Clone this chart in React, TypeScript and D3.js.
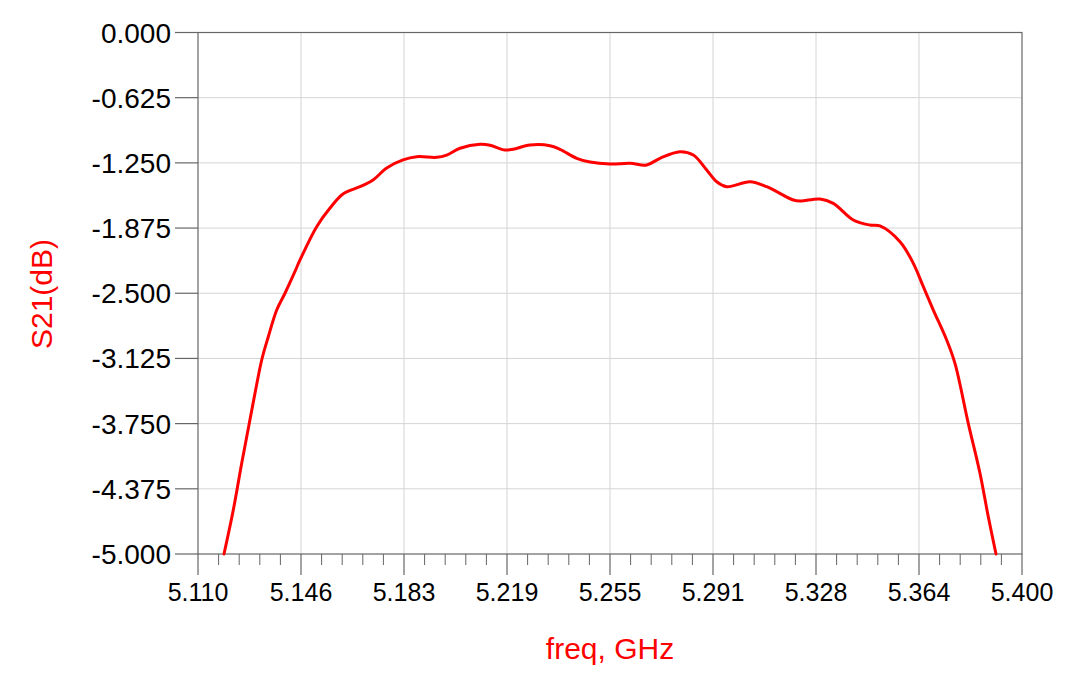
import React from "react";
import * as d3 from "d3";

const freqGHz: number[] = [
  5.11915, 5.12242, 5.12538, 5.12805, 5.13006, 5.13242, 5.13474, 5.1377, 5.14062, 5.14414,
  5.1459, 5.15177, 5.15646, 5.16103, 5.16701, 5.17159, 5.17641, 5.18215, 5.18697,
  5.19401, 5.19753, 5.20221, 5.20925, 5.21277, 5.21804, 5.22086, 5.22684, 5.23388, 5.2374,
  5.24328, 5.24796, 5.255, 5.26204, 5.26791, 5.2726, 5.27963, 5.28432, 5.28903, 5.29255,
  5.29607, 5.30427, 5.31015, 5.31951, 5.32187, 5.32891, 5.33359, 5.34063, 5.3465, 5.35002,
  5.35706, 5.36175, 5.36527, 5.36879, 5.37349, 5.37641, 5.38109, 5.38521, 5.38813, 5.39085,
];
const s21dB: number[] = [
  -5.0, -4.578, -4.13, -3.747, -3.459, -3.14, -2.917, -2.661, -2.5, -2.29,
  -2.181, -1.862, -1.683, -1.548, -1.478, -1.414, -1.299, -1.222, -1.191,
  -1.197, -1.175, -1.11, -1.072, -1.081, -1.127, -1.12, -1.079, -1.085, -1.12,
  -1.206, -1.242, -1.261, -1.254, -1.27, -1.206, -1.143, -1.175, -1.318, -1.431,
  -1.478, -1.431, -1.478, -1.606, -1.616, -1.596, -1.638, -1.798, -1.846, -1.855,
  -2.006, -2.213, -2.437, -2.661, -2.948, -3.172, -3.747, -4.226, -4.642, -5.0,
];
const xTicks: number[] = [5.11, 5.14625, 5.1825, 5.21875, 5.255, 5.29125, 5.3275, 5.36375, 5.4];
const xTickLabels: string[] = ["5.110", "5.146", "5.183", "5.219", "5.255", "5.291", "5.328", "5.364", "5.400"];
const yTicks: number[] = [0, -0.625, -1.25, -1.875, -2.5, -3.125, -3.75, -4.375, -5];
const yTickLabels: string[] = ["0.000", "-0.625", "-1.250", "-1.875", "-2.500", "-3.125", "-3.750", "-4.375", "-5.000"];

export default function App() {
  const W = 1080, H = 681;
  const L = 198, R = 1022, T = 32.5, B = 554;
  const x = d3.scaleLinear().domain([5.11, 5.4]).range([L, R]);
  const y = d3.scaleLinear().domain([-5, 0]).range([B, T]);
  const pts = freqGHz.map((f, i) => [f, s21dB[i]] as [number, number]);
  const line = d3.line<[number, number]>().x(d => x(d[0])).y(d => y(d[1])).curve(d3.curveCatmullRom.alpha(0.5));
  const minor: number[] = [];
  for (let i = 0; i < xTicks.length - 1; i++) {
    const a = xTicks[i], b = xTicks[i + 1];
    for (let k = 1; k < 5; k++) minor.push(a + (b - a) * k / 5);
  }
  const axisColor = "#666";
  const gridColor = "#d4d4d4";
  const font = "Liberation Sans, Arial, sans-serif";
  return (
    <svg width={W} height={H} style={{ position: "absolute", left: 0, top: 0, background: "#fff" }}>
      <rect x={0} y={0} width={W} height={H} fill="#fff" />
      {xTicks.slice(1, -1).map((t, i) => (
        <line key={"gx" + i} x1={x(t)} x2={x(t)} y1={T} y2={B} stroke={gridColor} strokeWidth={1} />
      ))}
      {yTicks.slice(1, -1).map((t, i) => (
        <line key={"gy" + i} x1={L} x2={R} y1={y(t)} y2={y(t)} stroke={gridColor} strokeWidth={1} />
      ))}
      <rect x={L} y={T} width={R - L} height={B - T} fill="none" stroke={axisColor} strokeWidth={1.2} />
      {yTicks.map((t, i) => (
        <g key={"yt" + i}>
          <line x1={175} x2={L} y1={y(t)} y2={y(t)} stroke={axisColor} strokeWidth={1.2} />
          <text x={171} y={y(t) + 10} textAnchor="end" fontFamily={font} fontSize={28} fill="#000">{yTickLabels[i]}</text>
        </g>
      ))}
      {xTicks.map((t, i) => (
        <g key={"xt" + i}>
          <line x1={x(t)} x2={x(t)} y1={B} y2={B + 21} stroke={axisColor} strokeWidth={1.2} />
          <text x={x(t)} y={601} textAnchor="middle" fontFamily={font} fontSize={25} fill="#000">{xTickLabels[i]}</text>
        </g>
      ))}
      {minor.map((t, i) => (
        <line key={"mx" + i} x1={x(t)} x2={x(t)} y1={B} y2={B + 11} stroke={axisColor} strokeWidth={1} />
      ))}
      <path d={line(pts) || ""} fill="none" stroke="#ff0000" strokeWidth={3} strokeLinejoin="round" strokeLinecap="round" />
      <text x={610} y={659} textAnchor="middle" fontFamily={font} fontSize={30} fill="#ff0000">freq, GHz</text>
      <text transform="translate(52,294) rotate(-90)" textAnchor="middle" fontFamily={font} fontSize={30} fill="#ff0000">S21(dB)</text>
    </svg>
  );
}
